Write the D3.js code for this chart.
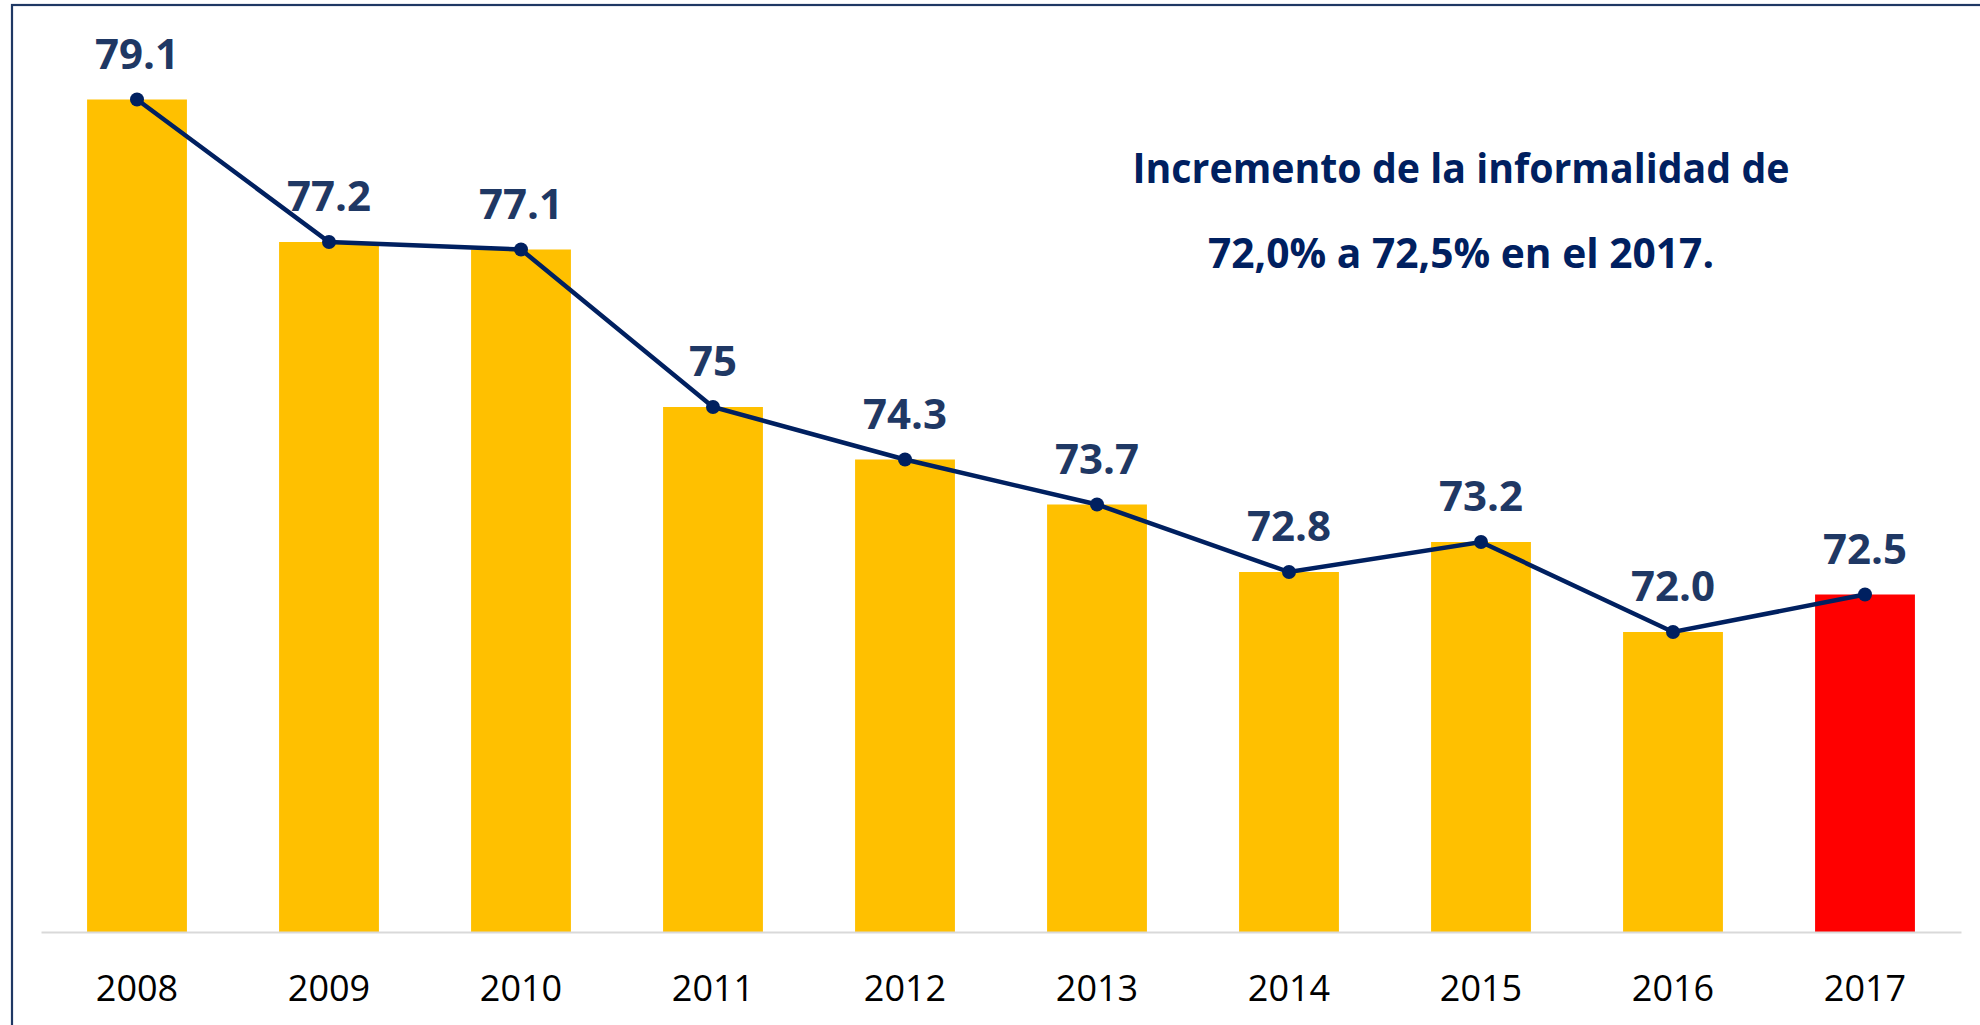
<!DOCTYPE html>
<html>
<head>
<meta charset="utf-8">
<script src="https://cdn.jsdelivr.net/npm/d3@7"></script>
<style>
  html, body { margin: 0; padding: 0; background: #fff; }
  svg { display: block; }
</style>
</head>
<body>
<div id="chart"></div>
<script>
// data
let years = ["2008", "2009", "2010", "2011", "2012", "2013", "2014", "2015", "2016", "2017"];
let values = [79.1, 77.2, 77.1, 75, 74.3, 73.7, 72.8, 73.2, 72.0, 72.5];
let valueLabels = ["79.1", "77.2", "77.1", "75", "74.3", "73.7", "72.8", "73.2", "72.0", "72.5"];
let highlightYear = "2017";
let noteLines = ["Incremento de la informalidad de", "72,0% a 72,5% en el 2017."];

let width = 1980;
let height = 1025;
let plot = ({left: 41, right: 1961, top: 32, bottom: 932});

let svg = d3.select("#chart")
  .append("svg")
  .attr("width", width)
  .attr("height", height);

// frame (right and bottom edges fall outside the picture)
svg.append("rect")
  .attr("x", 12).attr("y", 5)
  .attr("width", width + 20).attr("height", height + 20)
  .attr("fill", "none")
  .attr("stroke", "#1F3864")
  .attr("stroke-width", 2.2);

let x = d3.scaleBand().domain(years).range([plot.left, plot.right]).paddingInner(0.48).paddingOuter(0.24);
let y = d3.scaleLinear().domain([68, 80]).range([plot.bottom, plot.top]);

//////////////////////
//   Bars
//////////////////////
svg.append("g")
  .selectAll("rect")
  .data(years)
  .enter()
  .append("rect")
    .attr("x", d => x(d))
    .attr("y", (d, i) => y(values[i]))
    .attr("width", x.bandwidth())
    .attr("height", (d, i) => plot.bottom - y(values[i]))
    .attr("fill", d => d == highlightYear ? "#FF0000" : "#FFC000");

//////////////////////
//   X axis
//////////////////////
let xAxis = svg.append("g")
  .attr("transform", "translate(0," + plot.bottom + ")")
  .call(d3.axisBottom(x).tickSize(0).tickPadding(43));
xAxis.select(".domain").attr("stroke", "#D9D9D9").attr("stroke-width", 2);
xAxis.selectAll("text")
  .attr("font-family", "'Open Sans', sans-serif")
  .attr("font-size", "36px")
  .attr("fill", "#000");

//////////////////////
//   Line + markers
//////////////////////
let cx = d => x(d) + x.bandwidth() / 2;
let line = d3.line()
  .x((d, i) => cx(years[i]))
  .y(d => y(d));

svg.append("path")
  .datum(values)
  .attr("d", line)
  .attr("fill", "none")
  .attr("stroke", "#002060")
  .attr("stroke-width", 4.5);

svg.append("g")
  .selectAll("circle")
  .data(values)
  .enter()
  .append("circle")
    .attr("cx", (d, i) => cx(years[i]))
    .attr("cy", d => y(d))
    .attr("r", 7)
    .attr("fill", "#002060");

//////////////////////
//   Value labels
//////////////////////
svg.append("g")
  .selectAll("text")
  .data(values)
  .enter()
  .append("text")
    .attr("x", (d, i) => cx(years[i]))
    .attr("y", d => y(d) - 31)
    .attr("text-anchor", "middle")
    .attr("font-family", "'Open Sans', sans-serif")
    .attr("font-weight", "bold")
    .attr("font-size", "42px")
    .attr("fill", "#1F3864")
    .text((d, i) => valueLabels[i]);

//////////////////////
//   Note
//////////////////////
let noteWidths = [657, 506];
svg.append("g")
  .selectAll("text")
  .data(noteLines)
  .enter()
  .append("text")
    .attr("x", 1461)
    .attr("y", (d, i) => 183 + i * 85)
    .attr("text-anchor", "middle")
    .attr("font-family", "'Open Sans', sans-serif")
    .attr("font-weight", "bold")
    .attr("font-size", "42px")
    .attr("textLength", (d, i) => noteWidths[i])
    .attr("lengthAdjust", "spacingAndGlyphs")
    .attr("fill", "#002060")
    .text(d => d);
</script>
</body>
</html>
